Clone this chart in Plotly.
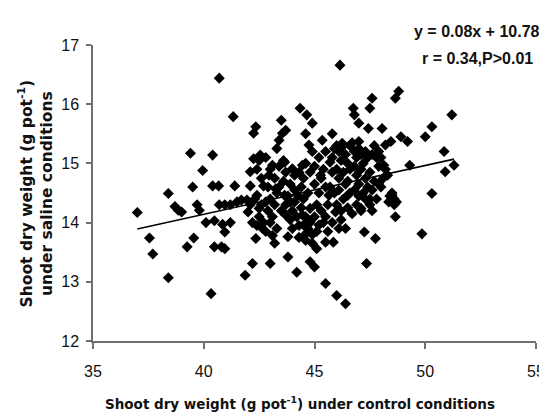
import plotly.graph_objects as go

# Shoot dry weight under control conditions (x) and saline conditions (y)
control_weight = [
    37.0, 37.55, 37.7, 38.4, 38.4, 38.7, 38.85, 39.0, 39.25, 39.55, 39.4, 39.5, 39.7, 39.8, 39.95,
    40.1, 40.33, 40.4, 40.4, 40.48, 40.48, 40.7, 40.67, 40.7, 40.8, 40.85, 40.95, 40.95, 40.95,
    41.2, 41.2, 41.33, 41.4, 41.5, 41.7, 41.87, 41.95, 42.0, 42.1, 42.1, 42.2, 42.2, 42.25, 42.35,
    42.25, 42.35, 42.4, 42.5, 42.55, 42.65, 42.7, 42.8, 42.95, 43.0, 43.0, 43.1, 43.2, 43.1, 43.25,
    43.3, 43.4, 43.5, 43.55, 43.65, 43.7, 43.65, 43.7, 43.8, 43.8, 43.9, 44.0, 44.1, 44.2, 44.25,
    44.35, 44.45, 44.45, 44.5, 44.55, 44.65, 44.75, 44.8, 44.9, 44.9, 44.8, 45.0, 45.1, 45.2, 45.27,
    45.35, 45.5, 45.5, 45.65, 45.7, 45.85, 45.95, 46.0, 46.1, 46.15, 46.25, 46.4, 46.5, 46.75, 46.8,
    47.0, 47.0, 47.1, 47.25, 47.35, 47.43, 47.5, 47.6, 47.5, 47.75, 47.9, 48.05, 48.13, 48.2, 48.3,
    48.35, 48.45, 48.5, 48.6, 48.65, 48.65, 48.8, 48.9, 49.2, 49.3, 49.85, 50.0, 50.3, 50.3, 50.85,
    50.9, 51.2, 51.3,
    45.8, 45.9, 46.0, 46.1, 46.2, 46.3, 46.4, 46.5, 46.6, 46.7, 46.8, 46.9, 47.0, 47.1, 47.2, 47.3,
    47.4, 47.6, 47.8, 45.8, 46.0, 46.1, 46.3, 46.5, 46.6, 46.8, 46.9, 47.0, 47.1, 47.3, 47.5, 47.7,
    45.7, 45.9, 46.1, 46.3, 46.4, 46.6, 46.8, 47.0, 47.2, 47.4, 47.6, 46.0, 46.2, 46.5, 46.7, 46.9,
    47.1, 45.6, 45.5, 45.8, 46.2, 46.4, 45.6, 47.9, 48.0, 47.7, 47.5, 47.3,
    43.5, 43.7, 43.9, 44.0, 44.1, 44.2, 44.3, 44.4, 44.5, 44.6, 44.7, 44.8, 44.9, 45.0, 45.1, 45.2,
    45.3, 45.4, 44.3, 44.6, 44.9, 45.1, 44.1, 44.4, 44.7, 45.0, 45.3, 45.5, 44.0, 43.8, 44.5, 44.8,
    45.0, 44.3, 44.6, 45.2, 45.4, 43.6, 43.9,
    42.1, 42.3, 42.5, 42.6, 42.7, 42.8, 42.9, 43.0, 43.1, 43.2, 43.3, 43.4, 42.4, 42.6, 42.9, 43.2,
    42.4, 42.5, 43.0, 43.4, 43.6, 42.8, 43.7, 43.3,
    44.6, 45.5, 45.8,
    47.8, 48.0, 48.2, 48.4, 48.6, 48.7, 47.9, 48.1, 47.6, 48.5,
]
saline_weight = [
    14.17, 13.74, 13.47, 13.07, 14.49, 14.27, 14.21, 14.18, 13.59, 13.74, 15.17, 14.6, 14.3, 14.21, 14.88,
    14.0, 12.8, 15.14, 14.62, 14.03, 13.59, 16.44, 14.62, 14.3, 13.59, 13.97, 13.84, 13.56, 14.3,
    14.3, 14.0, 15.79, 14.62, 14.35, 14.38, 13.11, 14.38, 14.18, 14.86, 14.62, 14.0, 13.31, 15.51, 15.62,
    15.08, 13.73, 14.46, 14.24, 15.14, 13.9, 14.62, 14.35, 14.8, 13.31, 14.0, 13.78, 13.65, 14.97, 14.57,
    15.25, 15.39, 15.73, 15.51, 14.46, 15.56, 15.02, 14.13, 13.42, 13.76, 14.35, 14.91, 14.8, 13.16, 14.46,
    15.93, 14.97, 14.13, 13.96, 13.79, 15.82, 15.31, 13.34, 15.2, 15.68, 14.24, 13.25, 13.56, 13.96, 14.8,
    15.39, 12.97, 13.67, 14.46, 15.02, 13.67, 14.18, 12.77, 13.9, 16.66, 15.34, 12.63, 14.46, 15.93, 15.82,
    15.68, 15.37, 14.24, 13.84, 13.31, 15.59, 14.3, 16.1, 15.93, 13.73, 15.2, 15.59, 14.97, 15.31, 14.8,
    14.35, 15.37, 14.46, 14.3, 16.1, 14.1, 16.22, 15.45, 15.37, 14.97, 13.81, 15.45, 15.62, 14.49, 15.2,
    14.86, 15.82, 14.97,
    15.1, 15.25, 15.3, 15.2, 15.05, 15.3, 15.15, 15.0, 15.3, 15.35, 15.2, 15.1, 15.25, 15.15, 15.0, 15.2,
    15.1, 15.15, 15.1, 14.85, 14.9, 14.75, 14.85, 14.7, 14.9, 14.95, 14.8, 14.65, 14.9, 14.75, 14.85, 14.7,
    14.6, 14.5, 14.55, 14.4, 14.65, 14.5, 14.55, 14.45, 14.5, 14.6, 14.55, 14.3, 14.2, 14.25, 14.15, 14.3,
    14.2, 14.3, 14.1, 14.0, 14.05, 13.9, 13.85, 14.95, 15.1, 15.3, 14.4, 14.4,
    14.2, 14.3, 14.05, 14.2, 14.35, 14.1, 13.95, 14.25, 14.4, 14.1, 13.9, 14.0, 13.8, 14.1, 14.3, 14.5,
    14.2, 14.0, 13.75, 13.7, 13.65, 13.85, 14.55, 14.6, 14.5, 14.65, 14.75, 14.6, 13.9, 14.45, 14.75, 14.85,
    14.95, 14.85, 15.0, 15.1, 14.9, 14.7, 14.65,
    14.3, 14.4, 14.1, 14.3, 14.0, 13.85, 14.2, 14.4, 14.1, 14.3, 13.9, 14.6, 13.95, 14.75, 14.6, 14.75,
    14.9, 15.05, 14.9, 14.95, 15.05, 15.1, 14.85, 14.5,
    15.5, 15.2, 15.5,
    14.4, 14.6, 14.9, 14.45, 14.4, 14.35, 14.65, 14.75, 14.2, 14.5,
]

# Linear trend as drawn
trend_slope = 0.0825
trend_intercept = 10.84
trend_x = [min(control_weight), max(control_weight)]
trend_y = [trend_slope * v + trend_intercept for v in trend_x]

x_ticks = [35, 40, 45, 50, 55]
y_ticks = [12, 13, 14, 15, 16, 17]
equation_lines = ["y = 0.08x + 10.78", "r = 0.34,P>0.01"]
x_title = "Shoot dry weight (g pot<sup>-1</sup>) under control conditions"
y_title = "Shoot dry weight (g pot<sup>-1</sup>)<br>under saline conditions"

fig = go.Figure()
fig.add_trace(go.Scatter(
    x=control_weight, y=saline_weight, mode="markers",
    marker=dict(symbol="diamond", size=8.5, color="#000000", line=dict(width=0)),
    showlegend=False,
))
fig.add_trace(go.Scatter(
    x=trend_x, y=trend_y, mode="lines",
    line=dict(color="#000000", width=1.6), showlegend=False,
))

tick_font = dict(family="Liberation Sans, Arial, sans-serif", size=16, color="#111111")
x_title_font = dict(family="DejaVu Sans, Verdana, sans-serif", size=13.5, color="#111111")
y_title_font = dict(family="DejaVu Sans, Verdana, sans-serif", size=15.5, color="#111111")
eq_font = dict(family="Liberation Sans, Arial, sans-serif", size=16, color="#111111")

fig.update_layout(
    width=547, height=415,
    margin=dict(l=85, r=10, t=37, b=82),
    paper_bgcolor="white", plot_bgcolor="white",
    xaxis=dict(
        range=[35, 55], tickvals=x_ticks, showgrid=False, zeroline=False,
        showline=True, linecolor="#707070", linewidth=1.5,
        ticks="outside", ticklen=6, tickcolor="#707070", tickwidth=1.5,
        tickfont=tick_font, ticklabelstandoff=9,
    ),
    yaxis=dict(
        range=[12, 17], tickvals=y_ticks, showgrid=False, zeroline=False,
        showline=True, linecolor="#707070", linewidth=1.5,
        ticks="outside", ticklen=5, tickcolor="#707070", tickwidth=1.5,
        tickfont=tick_font, ticklabelstandoff=4,
    ),
    annotations=[
        dict(text="<b>" + equation_lines[0] + "</b>", xref="paper", yref="paper", x=0.867, y=1.047,
             xanchor="center", yanchor="middle", showarrow=False, font=eq_font),
        dict(text="<b>" + equation_lines[1] + "</b>", xref="paper", yref="paper", x=0.867, y=0.956,
             xanchor="center", yanchor="middle", showarrow=False, font=eq_font),
        dict(text="<b>" + x_title + "</b>", xref="paper", yref="paper", x=0.468, y=-0.21,
             xanchor="center", yanchor="middle", showarrow=False, font=x_title_font),
        dict(text="<b>" + y_title + "</b>", xref="paper", yref="paper", x=-0.13, y=0.5,
             xanchor="center", yanchor="middle", showarrow=False, textangle=-90,
             font=y_title_font),
    ],
)

fig.write_html("out.html")
